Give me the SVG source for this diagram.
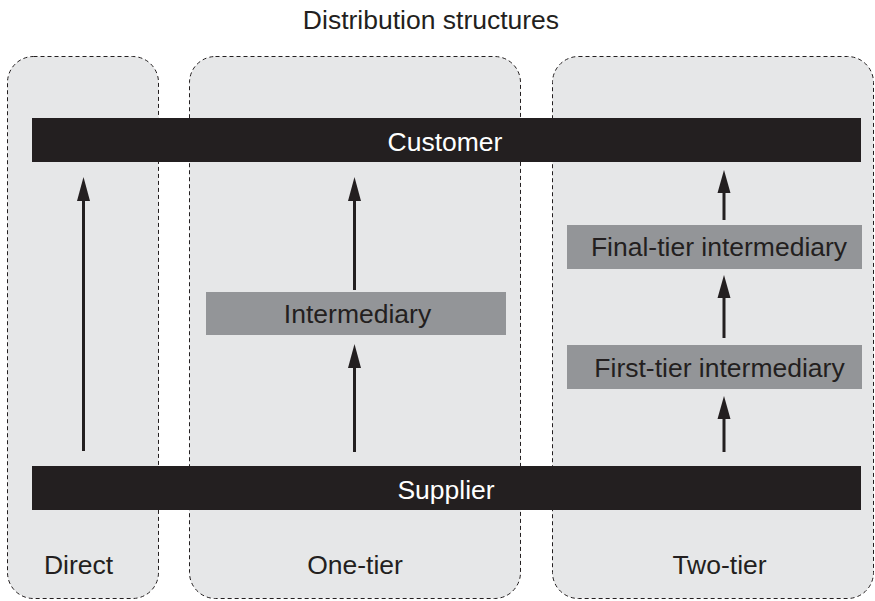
<svg xmlns="http://www.w3.org/2000/svg" width="875" height="601" viewBox="0 0 875 601">
<defs>
<style>
.panel{fill:#e6e7e8;stroke:#231f20;stroke-width:1;stroke-dasharray:4 3}
.bar{fill:#231f20}
.box{fill:#939598}
text{font-family:"Liberation Sans",Arial,sans-serif;font-size:26.5px;text-anchor:middle;fill:#231f20}
.w{fill:#ffffff}
.shaft{stroke:#231f20;stroke-width:3;fill:none}
.head{fill:#231f20}
</style>
</defs>
<rect width="875" height="601" fill="#ffffff"/>
<text x="431" y="29">Distribution structures</text>
<g id="panel-direct"><rect class="panel" x="7.5" y="56.5" width="151" height="542" rx="26"/><text x="78.5" y="574">Direct</text></g>
<g id="panel-one-tier"><rect class="panel" x="189.5" y="56.5" width="331" height="542" rx="26"/><text x="355" y="574">One-tier</text></g>
<g id="panel-two-tier"><rect class="panel" x="552.5" y="56.5" width="321" height="542" rx="26"/><text x="719.5" y="574">Two-tier</text></g>
<g id="customer"><rect class="bar" x="32" y="118" width="829" height="44"/><text class="w" x="445" y="150.5">Customer</text></g>
<g id="supplier"><rect class="bar" x="32" y="466" width="829" height="44"/><text class="w" x="446" y="498.5">Supplier</text></g>
<g id="intermediary"><rect class="box" x="206" y="292" width="300" height="43"/><text x="357.5" y="323">Intermediary</text></g>
<g id="final-tier"><rect class="box" x="567" y="225" width="295" height="44"/><text x="719" y="256">Final-tier intermediary</text></g>
<g id="first-tier"><rect class="box" x="567" y="345" width="295" height="44"/><text x="719.5" y="377">First-tier intermediary</text></g>
<g id="connectors">
<line class="shaft" x1="83.5" y1="451" x2="83.5" y2="198"/><path class="head" d="M83.5 177 L90 201 L77 201 Z"/>
<line class="shaft" x1="354.5" y1="290" x2="354.5" y2="198"/><path class="head" d="M354.5 177 L361 201 L348 201 Z"/>
<line class="shaft" x1="354.5" y1="452" x2="354.5" y2="366"/><path class="head" d="M354.5 344 L361 368 L348 368 Z"/>
<line class="shaft" x1="724" y1="220" x2="724" y2="190"/><path class="head" d="M724 170 L730.5 193 L717.5 193 Z"/>
<line class="shaft" x1="724" y1="338" x2="724" y2="295"/><path class="head" d="M724 275 L730.5 298 L717.5 298 Z"/>
<line class="shaft" x1="724" y1="452" x2="724" y2="416"/><path class="head" d="M724 396 L730.5 419 L717.5 419 Z"/>
</g>
</svg>
